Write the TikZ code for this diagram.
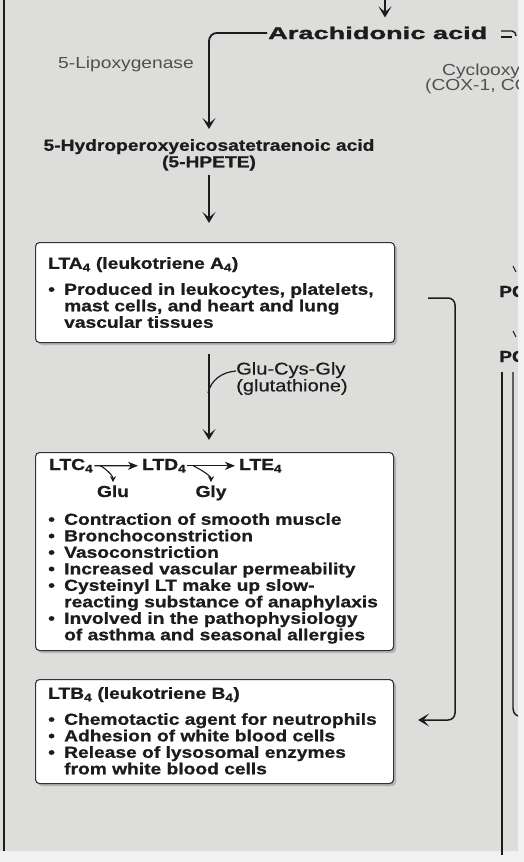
\documentclass[tikz,border=0pt]{standalone}
\usepackage{fontspec}
\setmainfont{Liberation Sans}[FakeStretch=1.2, BoldFeatures={FakeBold=0.8}]
\newfontfamily\arafont{Liberation Sans}[FakeStretch=1.6, BoldFeatures={FakeBold=1.6}]
\newfontfamily\medfont{Liberation Sans}[FakeStretch=1.18, FakeBold=0.5]
\usetikzlibrary{arrows.meta,shadows,calc}
\definecolor{bg}{RGB}{221,221,219}
\definecolor{ink}{RGB}{28,28,28}
\definecolor{soft}{RGB}{80,80,80}
\newcommand\myb{\makebox[16pt][l]{•}}
\newcommand\myi{\hspace*{16pt}}
\begin{document}
\begin{tikzpicture}[x=1pt,y=-1pt,
  txt/.style={inner sep=0pt, text=ink, font=\fontsize{16}{16.5}\selectfont\bfseries, align=left},
  lbl/.style={inner sep=0pt, text=soft, font=\fontsize{16}{16}\selectfont, align=left},
  glab/.style={inner sep=0pt, text=ink, font=\fontsize{17}{14}\selectfont\medfont, align=left},
  box/.style={draw=ink!90, line width=1.1pt, fill=white, rounded corners=4pt,
    drop shadow={shadow xshift=2.5pt, shadow yshift=-2.5pt, fill=black!45, opacity=.5}},
  arr/.style={draw=ink, line width=1.8pt, -{Stealth[length=11pt,width=13pt,inset=5.5pt]}},
  sarr/.style={draw=ink, line width=1.3pt, -{Stealth[length=10pt,width=8pt,inset=3pt]}},
  barr/.style={draw=ink, line width=1.1pt, -{Stealth[length=6pt,width=6pt,inset=2pt]}},
  ln/.style={draw=ink, line width=1.4pt}]

\useasboundingbox (0,0) rectangle (524,862);
\fill[bg] (0,0) rectangle (524,862);
\fill[bg!40!white] (0,851) rectangle (524,862);
\fill[bg!40!white] (518,0) rectangle (524,862);

\begin{scope}
\clip (0,0) rectangle (518,862);

% frame lines
\draw[ln] (4,0) -- (4,851);
\draw[ln] (502,372) -- (502,855);
\draw[ln] (513,372) -- (513,708) to[out=270,in=180] (519,716);

% top
\node[inner sep=1pt, anchor=base west, text=ink, font=\fontsize{17}{17}\selectfont\arafont\bfseries] (ara) at (267,39) {Arachidonic acid};
\coordinate (topin) at (385,-2);
\draw[arr, shorten >=8pt] (topin) -- (topin |- ara.north);
\draw[ln] (501,31) -- (512,31) to[out=0,in=90] (516,36);
\draw[ln] (501,37) -- (512,37);

\node[lbl, anchor=base west] (lipo) at (58,68) {5-Lipoxygenase};
\node[lbl, anchor=base west] (cox1) at (442,75) {Cyclooxygenase};
\node[lbl, anchor=base west] (cox2) at (425,90) {(COX-1, COX-2)};

\node[txt, align=center, anchor=north] (hpete) at (209,139) {5-Hydroperoxyeicosatetraenoic acid\\(5-HPETE)};

\draw[arr, rounded corners=8pt, shorten >=10pt] (ara.west) -| (hpete.north);

% LTA4
\node[box, anchor=north west, minimum width=359pt, minimum height=100pt] (lta) at (35,242) {};
\draw[arr, shorten <=4pt, shorten >=19pt] (hpete.south) -- (hpete.south |- lta.north);
\node[txt, anchor=north west] (ltat) at (48,257) {LTA\textsubscript{4} (leukotriene A\textsubscript{4})};
\node[txt, anchor=north west] (ltab) at (48,283) {\myb Produced in leukocytes, platelets,\\\myi mast cells, and heart and lung\\\myi vascular tissues};

% LTC box
\node[box, anchor=north west, minimum width=358pt, minimum height=198pt] (ltc) at (35,452) {};
\draw[arr, shorten <=11pt, shorten >=12pt] (hpete |- lta.south) -- (hpete |- ltc.north);
\node[glab, anchor=north west] (glut) at (236,362) {Glu-Cys-Gly\\(glutathione)};
\coordinate (gb) at (208,393);
\draw[ln, line width=1.2pt] (gb) .. controls (211,380) and (222,372) .. ([yshift=-9pt]glut.north west);

\node[txt, anchor=base west, inner sep=1pt] (ltc4) at (48,470) {LTC\textsubscript{4}};
\node[txt, anchor=base west, inner sep=1pt] (ltd4) at (141,470) {LTD\textsubscript{4}};
\node[txt, anchor=base west, inner sep=1pt] (lte4) at (238,470) {LTE\textsubscript{4}};
\node[txt, anchor=base] (glu) at (113,497) {Glu};
\node[txt, anchor=base] (gly) at (211,497) {Gly};
\draw[sarr, shorten >=3pt] (ltc4.east) -- (ltd4.west);
\draw[sarr, shorten >=3pt] (ltd4.east) -- (lte4.west);
\draw[barr] ($(ltc4.east)+(6,0)$) .. controls +(4,2) and +(0,-7) .. ([yshift=3pt]glu.north);
\draw[barr] ($(ltd4.east)+(6,0)$) .. controls +(4,2) and +(0,-7) .. ([yshift=3pt]gly.north);

\node[txt, anchor=north west] (ltcb) at (48,513) {\myb Contraction of smooth muscle\\\myb Bronchoconstriction\\\myb Vasoconstriction\\\myb Increased vascular permeability\\\myb Cysteinyl LT make up slow-\\\myi reacting substance of anaphylaxis\\\myb Involved in the pathophysiology\\\myi of asthma and seasonal allergies};

% LTB box
\node[box, anchor=north west, minimum width=358pt, minimum height=104pt] (ltb) at (35,679) {};
\node[txt, anchor=north west] (ltbt) at (48,687) {LTB\textsubscript{4} (leukotriene B\textsubscript{4})};
\node[txt, anchor=north west] (ltbb) at (48,713) {\myb Chemotactic agent for neutrophils\\\myb Adhesion of white blood cells\\\myb Release of lysosomal enzymes\\\myi from white blood cells};

\draw[arr, line width=1.5pt, rounded corners=7pt, shorten <=33pt, shorten >=24pt] (lta.east |- 0,298) -- (455,298) -- (455,720) -- (ltb.east |- 0,720);

% right edge fragments
\node[txt, anchor=base west] (pg1) at (499,297) {PG};
\node[txt, anchor=base west] (pg2) at (499,362) {PG};
\draw[ln, line width=1pt] (513,266) -- (516,272);
\draw[ln, line width=1pt] (513,331) -- (516,337);
\end{scope}
\end{tikzpicture}
\end{document}
